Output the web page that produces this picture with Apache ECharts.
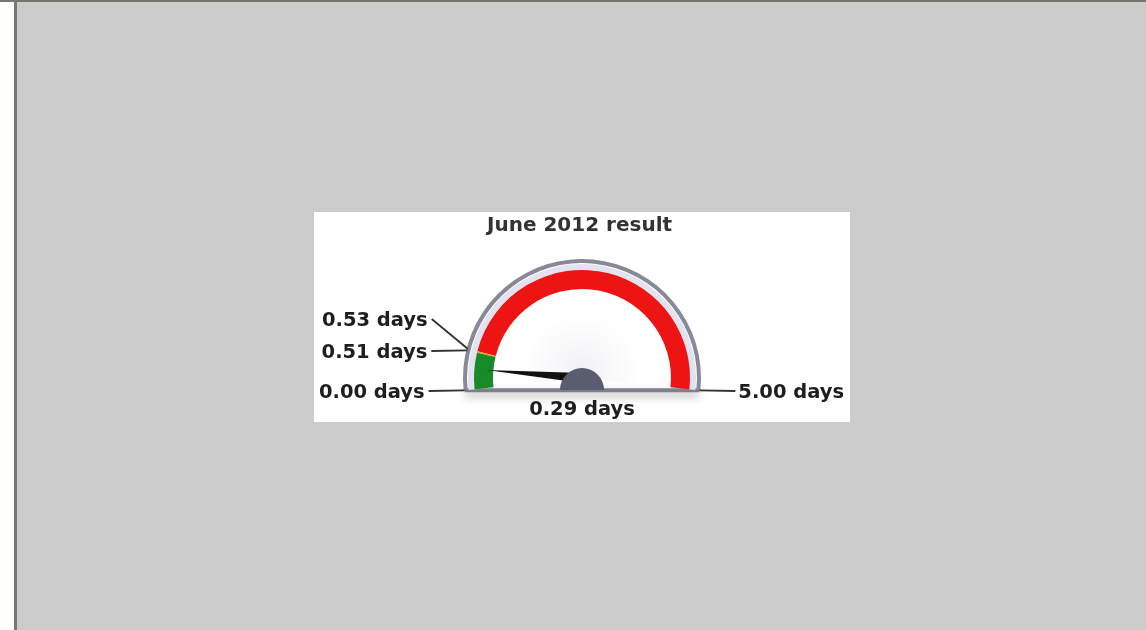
<!DOCTYPE html>
<html>
<head>
<meta charset="utf-8">
<script src="https://cdn.jsdelivr.net/npm/echarts@6/dist/echarts.min.js"></script>
<style>
	body{margin:0;background:#cbcbcb;width:1146px;height:630px;overflow:hidden;position:relative;}
	.topline{position:absolute;left:0;top:0;width:1146px;height:2px;background:#74786c;}
	.leftpad{position:absolute;left:0;top:2px;width:14px;height:628px;background:#ffffff;}
	.leftline{position:absolute;left:14px;top:2px;width:3px;height:628px;background:#76796d;}
	#gauge_box{position:absolute;left:314px;top:212px;width:536px;height:210px;background:#ffffff;}
</style>
</head>
<body>
<div class="topline"></div>
<div class="leftpad"></div>
<div class="leftline"></div>
<div id="gauge_box"></div>
<script type="text/javascript">
// data
var chartTitle = 'June 2012 result';
var unitName = 'days';
var gaugeMin = 0;
var gaugeMax = 5;
var thresholdValues = [0.00, 0.51, 0.53, 5.00];   // band edges, labelled round the rim
var currentValue = 0.29;

// look
var bandColors = ['#188a28', '#f0a020', '#ee1414'];
var cx = 268, cy = 166;         // gauge centre inside the white box
var startAng = 186, endAng = -6;
var bandR = 108, bandW = 19;
var rimR = 117;
var fontName = 'DejaVu Sans';

function fmt(v){
	return v.toFixed(2) + ' ' + unitName;
}

// value -> angle, same mapping the gauge uses
function angleOf(v){
	return startAng - (v - gaugeMin) / (gaugeMax - gaugeMin) * (startAng - endAng);
}
function pointAt(v, r){
	var a = angleOf(v) * Math.PI / 180;
	return [cx + r * Math.cos(a), cy - r * Math.sin(a)];
}

// band colour stops from the thresholds
var stops = [];
for (var i = 1; i < thresholdValues.length; i++) {
	stops.push([(thresholdValues[i] - gaugeMin) / (gaugeMax - gaugeMin), bandColors[i - 1]]);
}

// threshold labels with leader lines, spread so they do not overlap
var labelEls = [];
var leftLab = [], rightLab = [];
for (var i = 0; i < thresholdValues.length; i++) {
	var p = pointAt(thresholdValues[i], rimR + 1);
	var item = {v: thresholdValues[i], ax: p[0], ay: p[1], y: p[1] + 3};
	if (Math.cos(angleOf(thresholdValues[i]) * Math.PI / 180) < 0) leftLab.push(item); else rightLab.push(item);
}
function spread(list){
	list.sort(function(a, b){ return b.ay - a.ay; });
	for (var i = 1; i < list.length; i++) {
		if (list[i].y > list[i - 1].y - 32) list[i].y = list[i - 1].y - 32;
	}
}
spread(leftLab);
spread(rightLab);
function addLabel(it, side){
	var lineEnd = side < 0 ? it.ax - 36 : it.ax + 36;
	var yy = Math.round(it.y);
	labelEls.push({
		type: 'polyline', z: 20,
		shape: {points: [[lineEnd, yy - 2], [it.ax, it.ay]]},
		style: {stroke: '#333333', lineWidth: 1.8, fill: null}
	});
	labelEls.push({
		type: 'text', z: 20,
		x: side < 0 ? lineEnd - 4 : lineEnd + 3, y: yy,
		style: {
			text: fmt(it.v), fill: '#1e1e1e', font: 'bold 19.5px "' + fontName + '"',
			align: side < 0 ? 'right' : 'left', verticalAlign: 'middle'
		}
	});
}
leftLab.forEach(function(it){ addLabel(it, -1); });
rightLab.forEach(function(it){ addLabel(it, 1); });

var rimL = pointAt(gaugeMin, rimR);
var rimRt = pointAt(gaugeMax, rimR);

var myChart = echarts.init(document.getElementById('gauge_box'));
var options = {
	backgroundColor: '#ffffff',
	animation: false,
	title: {
		text: chartTitle,
		left: 168, top: -1,
		textStyle: {fontFamily: fontName, fontSize: 20, fontWeight: 'bold', color: '#333333'}
	},
	graphic: [
		{	// face
			type: 'sector', z: 0,
			shape: {cx: cx, cy: cy, r: rimR, r0: 0,
				startAngle: -startAng * Math.PI / 180, endAngle: -endAng * Math.PI / 180},
			style: {fill: {type: 'radial', x: 0.5, y: 0.85, r: 0.55,
				colorStops: [{offset: 0, color: '#f1f1f5'}, {offset: 0.8, color: '#ffffff'}, {offset: 1, color: '#ffffff'}]}}
		},
		{	// base bar
			type: 'line', z: 1,
			shape: {x1: rimL[0] - 1, y1: rimL[1], x2: rimRt[0] + 1, y2: rimRt[1]},
			style: {stroke: '#7d7f8e', lineWidth: 4, shadowColor: 'rgba(0,0,0,0.35)', shadowBlur: 8, shadowOffsetY: 4}
		}
	].concat(labelEls),
	series: [
		{	// soft inner ring
			type: 'gauge', z: 1,
			center: [cx, cy], radius: rimR - 3,
			startAngle: startAng, endAngle: endAng,
			min: gaugeMin, max: gaugeMax,
			axisLine: {lineStyle: {width: 7, color: [[1, '#e2e3ee']]}},
			axisTick: {show: false}, splitLine: {show: false}, axisLabel: {show: false},
			pointer: {show: false}, anchor: {show: false}, title: {show: false}, detail: {show: false},
			data: [{value: gaugeMin}]
		},
		{	// outer rim
			type: 'gauge', z: 1,
			center: [cx, cy], radius: rimR + 2,
			startAngle: startAng, endAngle: endAng,
			min: gaugeMin, max: gaugeMax,
			axisLine: {lineStyle: {width: 4, color: [[1, '#878999']]}},
			axisTick: {show: false}, splitLine: {show: false}, axisLabel: {show: false},
			pointer: {show: false}, anchor: {show: false}, title: {show: false}, detail: {show: false},
			data: [{value: gaugeMin}]
		},
		{	// bands, needle, value
			type: 'gauge', z: 3,
			center: [cx, cy], radius: bandR,
			startAngle: startAng, endAngle: endAng,
			min: gaugeMin, max: gaugeMax,
			axisLine: {lineStyle: {width: bandW, color: stops}},
			axisTick: {show: false}, splitLine: {show: false}, axisLabel: {show: false},
			pointer: {
				show: true,
				icon: 'path://M4,0 L9,100 L0,100 Z',
				length: 96, width: 10,
				offsetCenter: [0, 0],
				itemStyle: {color: '#111111'}
			},
			anchor: {
				show: true, showAbove: true,
				icon: 'path://M0,10 A10,10 0 0 1 20,10 Z',
				keepAspect: true, size: 44,
				offsetCenter: [0, 1],
				itemStyle: {color: '#5a5d70'}
			},
			title: {show: false},
			detail: {
				offsetCenter: [0, 32],
				formatter: function(v){ return fmt(v); },
				fontFamily: fontName, fontSize: 19.5, fontWeight: 'bold', color: '#1e1e1e'
			},
			data: [{value: currentValue}]
		}
	]
};
myChart.setOption(options);
</script>
</body>
</html>
